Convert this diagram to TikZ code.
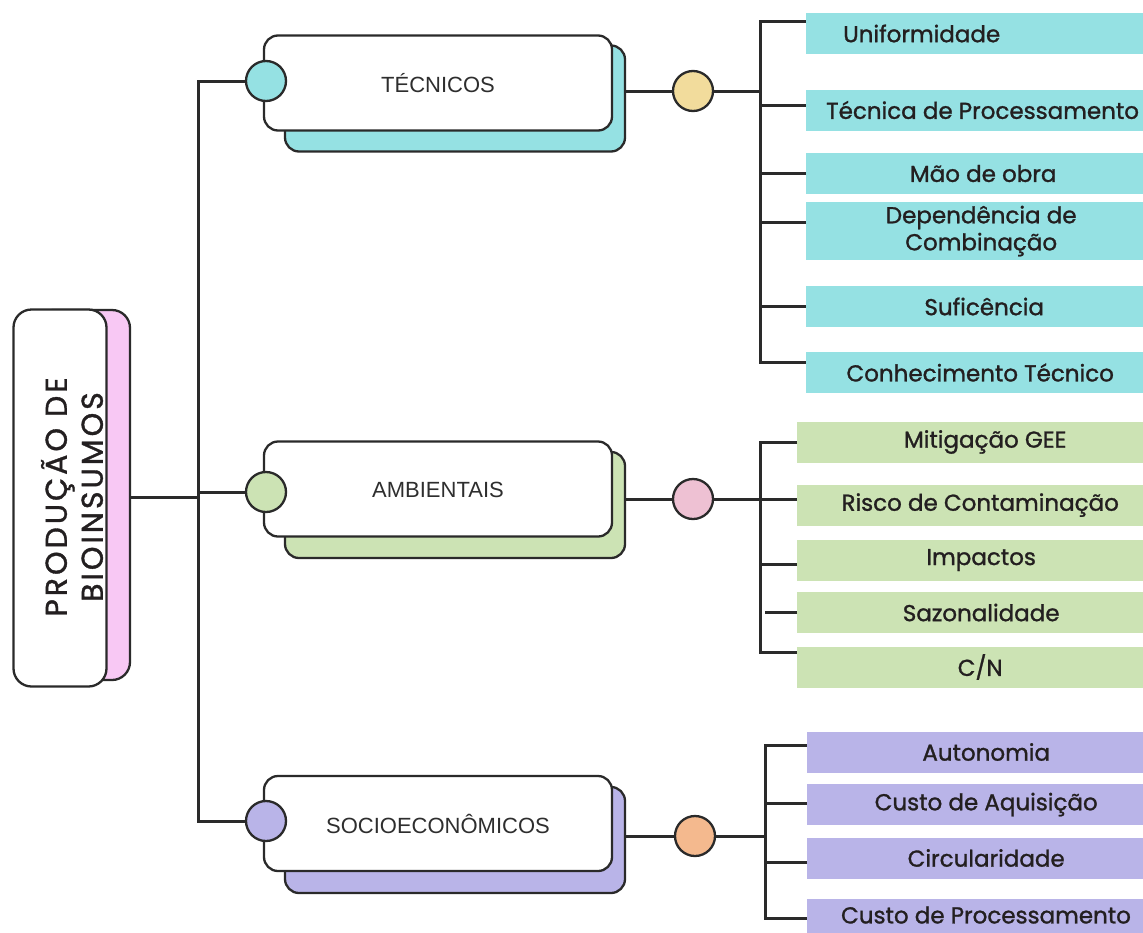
\documentclass[tikz,border=0pt]{standalone}
\usepackage{fontspec}
\setmainfont{Poppins}
\newfontfamily\leaff[FakeBold=1.2]{Poppins}
\newfontfamily\titlef[FakeBold=1.2,LetterSpace=10]{Poppins}
\newfontfamily\arialf{Liberation Sans}
\definecolor{tecC}{HTML}{95E1E3}
\definecolor{ambC}{HTML}{CCE3B4}
\definecolor{socC}{HTML}{B9B4E8}
\definecolor{mainC}{HTML}{F8C8F4}
\definecolor{yelC}{HTML}{F2DC9C}
\definecolor{pnkC}{HTML}{EEC1D3}
\definecolor{orgC}{HTML}{F4B98E}
\definecolor{lineC}{HTML}{2A2A2A}
\definecolor{txtC}{HTML}{231F20}
\definecolor{catT}{HTML}{2E2E2E}
\begin{document}
\begin{tikzpicture}[x=1pt,y=-1pt,
  wire/.style={draw=lineC,line width=3pt},
  frontbox/.style={draw=lineC,line width=2.3pt,fill=white,rounded corners=14pt,minimum width=348pt,minimum height=95pt,inner sep=0pt},
  backbox/.style={draw=lineC,line width=2.3pt,rounded corners=14pt,minimum width=340pt,minimum height=106pt,inner sep=0pt},
  dot/.style={circle,draw=lineC,line width=2.3pt,minimum size=40pt,inner sep=0pt},
  leaftext/.style={text=txtC,font=\leaff\fontsize{23}{27}\selectfont},
  leaf/.style={rectangle,anchor=west,minimum height=41pt,inner sep=0pt,align=center,leaftext},
  cattext/.style={font=\arialf\fontsize{22}{24}\selectfont,text=catT}
]
\useasboundingbox (0,0) rectangle (1143,932);

% main node
\node[draw=lineC,line width=2.3pt,fill=mainC,rounded corners=18pt,minimum width=95pt,minimum height=370pt] (mainB) at (82.5,495) {};
\node[draw=lineC,line width=2.3pt,fill=white,rounded corners=18pt,minimum width=93pt,minimum height=377pt] (mainF) at (60,498) {};
\node[rotate=90,align=center,text=txtC,font=\titlef\fontsize{30}{36}\selectfont] (mainT) at (72,497) {PRODUÇÃO DE\\BIOINSUMOS};

% categories
\node[backbox,fill=tecC] (tecB) at (455,98.5) {};
\node[frontbox] (tecF) at (438,83) {};
\node[cattext] (tecT) at (438,83) {TÉCNICOS};
\node[dot,fill=tecC] (tecL) at (266,81) {};

\node[backbox,fill=ambC] (ambB) at (455,505) {};
\node[frontbox] (ambF) at (438,489) {};
\node[cattext] (ambT) at (438,490) {AMBIENTAIS};
\node[dot,fill=ambC] (ambL) at (266,492) {};

\node[backbox,fill=socC] (socB) at (455,840) {};
\node[frontbox] (socF) at (438,823.5) {};
\node[cattext] (socT) at (438,824) {SOCIOECONÔMICOS};
\node[dot,fill=socC] (socL) at (266,821) {};

% right dots
\node[dot,fill=yelC] (tecR) at (693,91) {};
\node[dot,fill=pnkC] (ambR) at (693,499) {};
\node[dot,fill=orgC] (socR) at (695,836) {};

% left tree
\coordinate (j) at (198,497);
\coordinate (btop) at (198,81);
\coordinate (bbot) at (198,821);
\draw[wire] (j -| mainB.east) -- (j);
\draw[wire] (tecL) -- (btop) -- (bbot) -- (socL);
\draw[wire] (ambL) -- (ambL -| btop);

% right connectors from category to dot
\draw[wire] (tecB.east |- tecR) -- (tecR);
\draw[wire] (ambB.east |- ambR) -- (ambR);
\draw[wire] (socB.east |- socR) -- (socR);

% ---------- TECNICOS leaves
\node[leaf,fill=tecC,minimum width=354pt] (t1) at (806,33.5) {};
\node[anchor=west,inner sep=0pt,leaftext] (t1t) at (843,33.5) {Uniformidade};
\node[leaf,fill=tecC,minimum width=354pt] (t2) at (806,110) {};
\node[anchor=west,inner sep=0pt,leaftext] (t2t) at (826,110) {Técnica de Processamento};
\node[leaf,fill=tecC,minimum width=354pt] (t3) at (806,173.5) {Mão de obra};
\node[leaf,fill=tecC,minimum width=350pt,minimum height=58pt] (t4) at (806,231) {Dependência de\\Combinação};
\node[leaf,fill=tecC,minimum width=356pt] (t5) at (806,306.5) {Suficência};
\node[leaf,fill=tecC,minimum width=348pt] (t6) at (806,372.5) {Conhecimento Técnico};

\coordinate (tbt) at (760,21);
\coordinate (tbb) at (760,362);
\draw[wire] (t1.west |- tbt) -- (tbt) -- (tbb) -- (t6.west |- tbb);
\draw[wire] (tecR) -- (tecR -| tbt);
\draw[wire] ([yshift=5pt]t2.west) -- ([yshift=5pt]t2.west -| tbt);
\draw[wire] (t3.west) -- (t3.west -| tbt);
\draw[wire] ([yshift=9pt]t4.west) -- ([yshift=9pt]t4.west -| tbt);
\draw[wire] (t5.west) -- (t5.west -| tbt);

% ---------- AMBIENTAIS leaves
\node[leaf,fill=ambC,minimum width=376pt] (a1) at (797,442) {Mitigação GEE};
\node[leaf,fill=ambC,minimum width=366pt] (a2) at (797,505) {Risco de Contaminação};
\node[leaf,fill=ambC,minimum width=368pt] (a3) at (797,560) {Impactos};
\node[leaf,fill=ambC,minimum width=368pt] (a4) at (797,612.5) {Sazonalidade};
\node[leaf,fill=ambC,minimum width=366pt] (a5) at (797,667) {C/N};

\coordinate (abt) at (760,442);
\coordinate (abb) at (760,652);
\draw[wire] (a1.west) -- (abt) -- (abb) -- (a5.west |- abb);
\draw[wire] (ambR) -- ([yshift=6pt]a2.west);
\draw[wire] ([yshift=-4pt]a3.west) -- ([yshift=-4pt]a3.west -| abt);
\draw[wire] (a4.west) -- ([xshift=5pt]a4.west -| abt);

% ---------- SOCIOECONOMICOS leaves
\node[leaf,fill=socC,minimum width=358pt] (s1) at (807,752) {Autonomia};
\node[leaf,fill=socC,minimum width=358pt] (s2) at (807,804.5) {Custo de Aquisição};
\node[leaf,fill=socC,minimum width=358pt] (s3) at (807,858) {Circularidade};
\node[leaf,fill=socC,minimum width=358pt,minimum height=50pt] (s4) at (807,924) {};
\node[inner sep=0pt,leaftext] (s4t) at (986,915) {Custo de Processamento};

\coordinate (sbt) at (765,745);
\coordinate (sbb) at (765,918);
\draw[wire] ([yshift=7pt]s1.west) -- (sbt) -- (sbb) -- (s4.west |- sbb);
\draw[wire] (socR) -- (socR -| sbt);
\draw[wire] ([yshift=1.5pt]s2.west) -- ([yshift=1.5pt]s2.west -| sbt);
\draw[wire] ([yshift=-4pt]s3.west) -- ([yshift=-4pt]s3.west -| sbt);
\end{tikzpicture}
\end{document}
